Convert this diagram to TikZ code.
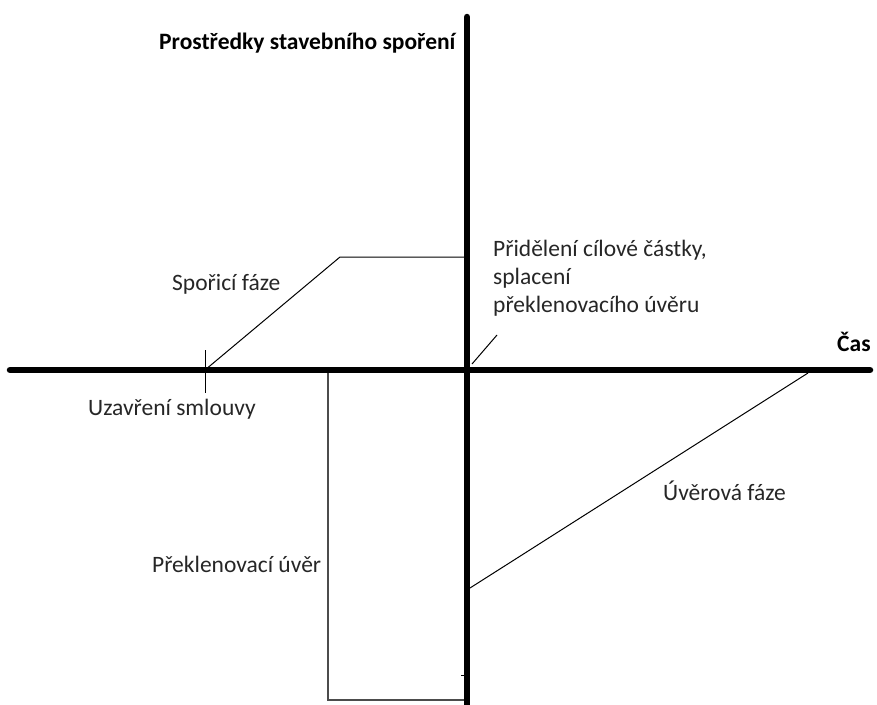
\documentclass[tikz,border=0pt]{standalone}
\usepackage{fontspec}
\setmainfont{Carlito}
\begin{document}
\begin{tikzpicture}[x=1pt,y=-1pt,
  axis/.style={line width=6.5pt},
  thin/.style={line width=1pt,black},
  rect/.style={line width=1.6pt,black!70},
  lbl/.style={font=\fontsize{23.5}{28}\selectfont,inner sep=0pt,anchor=west,text=black!85},
  blbl/.style={font=\fontsize{23.5}{28}\selectfont\bfseries,inner sep=0pt,anchor=west}]
\useasboundingbox (0,0) rectangle (877,704);
% axes
\coordinate (ytop) at (467,17);
\coordinate (ybot) at (467,710);
\coordinate (xl) at (10,370);
\coordinate (xr) at (870,370);
\draw[axis,line cap=round] (ytop) -- (ybot);
\draw[axis,line cap=round] (xl) -- (xr);
% contract tick
\coordinate (t1) at (205,350);
\coordinate (t2) at (205,393);
\draw[thin] (t1) -- (t2);
% savings phase
\coordinate (s0) at (205,370);
\coordinate (s1) at (340,257);
\coordinate (s2) at (464,257);
\draw[thin] (s0) -- (s1) -- (s2);
% pointer to allocation label
\coordinate (p0) at (472,364);
\coordinate (p1) at (497,335);
\draw[thin] (p0) -- (p1);
% bridging loan
\coordinate (b0) at (328,373);
\coordinate (b1) at (328,700);
\coordinate (b2) at (464,700);
\draw[rect] (b0) -- (b1) -- (b2);
\coordinate (m0) at (461,675);
\coordinate (m1) at (464,675);
\draw[line width=1pt] (m0) -- (m1);
% loan phase
\coordinate (l0) at (470,588);
\coordinate (l1) at (808,373);
\draw[thin] (l0) -- (l1);
% labels
\node[blbl] (ylab) at (159,43) {Prostředky stavebního spoření};
\node[blbl] (xlab) at (837,342) {Čas};
\node[lbl,align=left,anchor=north west] (alloc) at (493,240) {Přidělení cílové částky,\\splacení\\překlenovacího úvěru};
\node[lbl] (sav) at (172,284) {Spořicí fáze};
\node[lbl] (contr) at (88,409) {Uzavření smlouvy};
\node[lbl] (loan) at (663,491) {Úvěrová fáze};
\node[lbl] (bridge) at (152,564) {Překlenovací úvěr};
\end{tikzpicture}
\end{document}
